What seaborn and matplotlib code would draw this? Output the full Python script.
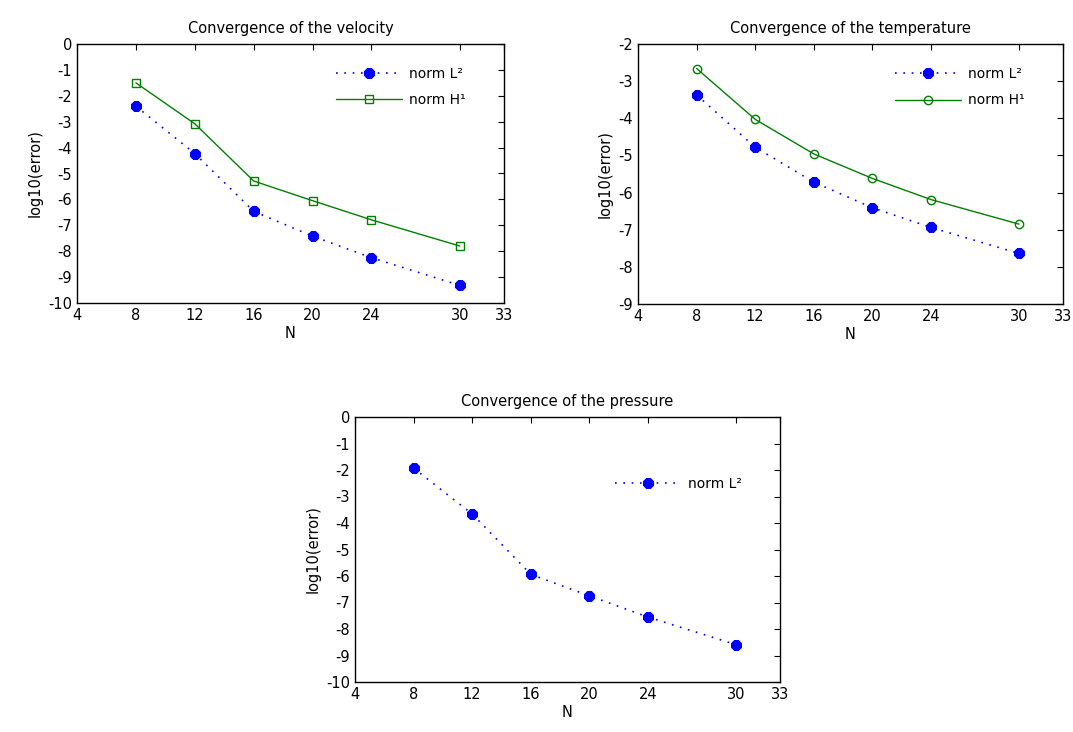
import matplotlib
matplotlib.use("Agg")
import matplotlib.pyplot as plt
import seaborn as sns
import pandas as pd

N = [8, 12, 16, 20, 24, 30]
vel_L2 = [-2.40, -4.23, -6.46, -7.42, -8.25, -9.32]
vel_H1 = [-1.50, -3.08, -5.29, -6.05, -6.79, -7.80]
temp_L2 = [-3.37, -4.78, -5.72, -6.41, -6.94, -7.64]
temp_H1 = [-2.66, -4.03, -4.96, -5.62, -6.19, -6.85]
pres_L2 = [-1.93, -3.66, -5.94, -6.75, -7.55, -8.59]
xticks = [4, 8, 12, 16, 20, 24, 30, 33]

sns.set_style("white")
plt.rcParams['font.family'] = ['DejaVu Sans']
plt.rcParams['axes.unicode_minus'] = False
plt.rcParams['text.color'] = 'black'

W, H = 1073, 732
fig = plt.figure(figsize=(W / 100, H / 100), dpi=100)

def add_ax(x0, y0, x1, y1):
    return fig.add_axes([x0 / W, 1 - y1 / H, (x1 - x0) / W, (y1 - y0) / H])

ax1 = add_ax(77, 44, 504, 303)
ax2 = add_ax(638, 44, 1063, 304)
ax3 = add_ax(355, 417, 780, 682)

blue = "#0000ff"
green = "#008000"

def style(ax, title, ylim, yticks):
    ax.set_xlim(4, 33)
    ax.set_xticks(xticks)
    ax.set_ylim(*ylim)
    ax.set_yticks(yticks)
    ax.set_title(title, fontsize=10.5, pad=8, color="black")
    ax.set_xlabel("N", fontsize=10.5, labelpad=2, color="black")
    ax.set_ylabel("log10(error)", fontsize=10.5, labelpad=4, color="black")
    ax.tick_params(direction="in", top=True, right=True, length=4, width=0.8,
                   labelsize=10.5, colors="black")
    for s in ax.spines.values():
        s.set_color("black")
        s.set_linewidth(1.0)
    ax.grid(False)

def plot_l2(ax, y):
    sns.lineplot(x=N, y=y, ax=ax, color=blue, linestyle=(0, (1, 4)), linewidth=1.2,
                 marker="8", markersize=8.5, markeredgecolor=blue, label="norm L²")

def plot_h1(ax, y, marker):
    sns.lineplot(x=N, y=y, ax=ax, color=green, linestyle="-", linewidth=1.0,
                 marker=marker, markersize=6, markerfacecolor="none",
                 markeredgecolor=green, markeredgewidth=1.0, label="norm H¹")

plot_l2(ax1, vel_L2)
plot_h1(ax1, vel_H1, "s")
style(ax1, "Convergence of the velocity", (-10, 0), list(range(-10, 1)))

plot_l2(ax2, temp_L2)
plot_h1(ax2, temp_H1, "o")
style(ax2, "Convergence of the temperature", (-9, -2), list(range(-9, -1)))

plot_l2(ax3, pres_L2)
style(ax3, "Convergence of the pressure", (-10, 0), list(range(-10, 1)))

for ax in (ax1, ax2):
    ax.legend(loc="upper right", frameon=False, fontsize=10, handlelength=4.8,
              handletextpad=0.5, bbox_to_anchor=(0.94, 0.96), labelspacing=0.9,
              labelcolor="black")
ax3.legend(loc="upper right", frameon=False, fontsize=10, handlelength=4.8,
           handletextpad=0.5, bbox_to_anchor=(0.94, 0.82), labelcolor="black")

fig.savefig("out.png", dpi=100)
